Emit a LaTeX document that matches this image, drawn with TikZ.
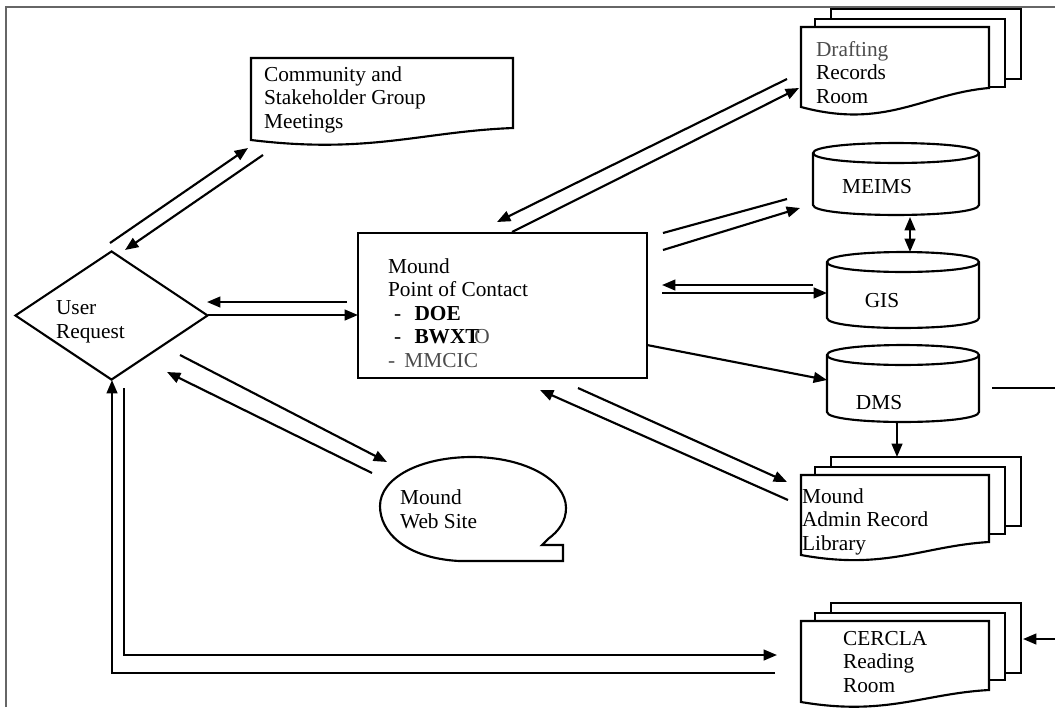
\documentclass[tikz,border=0pt]{standalone}
\usepackage{fontspec}
\setmainfont{Liberation Serif}
\usepackage{tikz}
\usetikzlibrary{arrows.meta}
\usetikzlibrary{shapes.geometric}
\definecolor{txtgray}{gray}{0.3}
\definecolor{framegray}{gray}{0.4}
\tikzset{arr/.style = {-{Triangle[length=10pt,width=8pt]}}}
\tikzset{dblarr/.style = {{Triangle[length=10pt,width=8pt]}-{Triangle[length=10pt,width=8pt]}}}
\tikzset{txt/.style = {anchor=base west, inner sep=0, align=left}}
\tikzset{shp/.style = {draw, fill=white}}
% document shape: left, top, right, bottom right, bottom left
\newcommand{\docshape}[5]{%
 \draw[shp] (#1,#2) -- (#3,#2) -- (#3,#4) .. controls ({#3-0.35*(#3-#1)},{#4+0.3*(#5-#4)}) and ({#1+0.45*(#3-#1)},{#5+1.2*(#5-#4)}) .. (#1,#5) -- cycle;}
% stack of three documents, last two args: bottoms of the middle and back sheet
\newcommand{\docstack}[7]{%
 \draw[shp] ({#1+30},{#2-18}) rectangle ({#3+32},#7);
 \draw[shp] ({#1+14},{#2-8}) rectangle ({#3+16},#6);
 \docshape{#1}{#2}{#3}{#4}{#5}}
% cylinder: left, right, top, bottom
\newcommand{\dbcyl}[4]{%
 \draw[shp] (#1,{#3+10}) .. controls (#1,{#3-3.3}) and (#2,{#3-3.3}) .. (#2,{#3+10})
  -- (#2,{#4-10}) .. controls (#2,{#4+3.3}) and (#1,{#4+3.3}) .. (#1,{#4-10}) -- cycle;
 \draw (#1,{#3+10}) .. controls (#1,{#3+23.3}) and (#2,{#3+23.3}) .. (#2,{#3+10});}

\begin{document}
\begin{tikzpicture}[x=0.75pt, y=-0.75pt, line width=1.6pt, font=\fontsize{16}{17.6}\selectfont]
\useasboundingbox (0,0) rectangle (1055,707);
\draw[framegray, line width=1.5pt] (6,707) -- (6,7) -- (1055,7);

% shapes
\docshape{251}{58}{513}{128}{140}
\docstack{801}{27}{989}{88}{107}{87}{79}
\docstack{801}{475}{989}{542}{555}{534}{526}
\docstack{801}{621}{989}{690}{702}{680}{673}
\dbcyl{813}{979}{143}{215}
\dbcyl{827}{979}{252}{328}
\dbcyl{827}{979}{345}{422}
\node[diamond, draw, minimum width=144.75pt, minimum height=96.75pt, inner sep=0] (user) at (111.5,315.5) {};
\node[draw, minimum width=216.75pt, minimum height=108.75pt, inner sep=0] (poc) at (502.5,305.5) {};
\draw[shp] (459,561) .. controls (405,558) and (380,532) .. (380,506) .. controls (380,478) and (420,457) .. (472,457)
 .. controls (525,457) and (566,480) .. (566,508) .. controls (566,521) and (559,531) .. (548,539)
 -- (542,545) -- (563,545) -- (563,561) -- cycle;

% texts (anchored at the baseline of their last line)
\node[txt] (comm) at (263,128) {Community and\\Stakeholder Group\\Meetings};
\node[txt] (draft) at (815,103) {{\color{txtgray}Drafting}\\Records\\Room};
\node[txt] (usr) at (55,338) {User\\Request};
\node[txt] (pocText) at (387,367) {Mound\\Point of Contact\\\hspace*{4.5pt}-\hspace*{10pt}\textbf{DOE}\\\hspace*{4.5pt}-\hspace*{10pt}\textbf{BWXT}\kern-4pt{\color{txtgray}O}\\{\color{txtgray}-\hspace*{7pt}MMCIC}};
\node[anchor=base, inner sep=0] (meims) at (877,193) {MEIMS};
\node[anchor=base, inner sep=0] (gis) at (882,307) {GIS};
\node[anchor=base, inner sep=0] (dms) at (879,409) {DMS};
\node[txt] (web) at (399,528) {Mound\\Web Site};
\node[txt] (admin) at (801,550) {Mound\\Admin Record\\Library};
\node[txt] (cercla) at (842,692) {CERCLA\\Reading\\Room};

% connector ends
\coordinate (ur-cm) at (110,243);  \coordinate (cm-in) at (248,148);
\coordinate (cm-ur) at (263,155);  \coordinate (ur-in) at (125,250);
\coordinate (pc-ur) at (347,302);  \coordinate (ur-r) at (207,302);
\coordinate (ur-pc) at (208,315);  \coordinate (pc-l) at (358,315);
\coordinate (ur-wb) at (180,355);  \coordinate (wb-in) at (387,462);
\coordinate (wb-ur) at (372,473);  \coordinate (ur-lr) at (167,372);
\coordinate (pc-dr) at (512,232);  \coordinate (dr-in) at (799,88);
\coordinate (dr-pc) at (787,79);   \coordinate (pc-t) at (497,222);
\coordinate (pc-me) at (663,250);  \coordinate (me-in) at (800,208);
\coordinate (me-pc) at (787,199);  \coordinate (pc-me2) at (663,233);
\coordinate (gi-pc) at (813,285);  \coordinate (pc-gi2) at (662,285);
\coordinate (pc-gi) at (662,293);  \coordinate (gi-in) at (827,293);
\coordinate (pc-dm) at (647,345);  \coordinate (dm-in) at (827,380);
\coordinate (pc-ad) at (578,388);  \coordinate (ad-in) at (787,482);
\coordinate (ad-pc) at (788,500);  \coordinate (pc-b) at (540,390);
\coordinate (me-b) at (910,217);   \coordinate (gi-t) at (910,252);
\coordinate (dm-b) at (897,422);   \coordinate (ad-t) at (897,457);
\coordinate (dm-r) at (992,388);   \coordinate (dm-out) at (1055,388);
\coordinate (ce-src) at (1055,639); \coordinate (ce-r) at (1023,639);
\coordinate (ur-ce) at (124,388);  \coordinate (ce-in) at (777,655);
\coordinate (ce-ur) at (775,673);  \coordinate (ur-b) at (112,380);

% connectors
\draw[arr] (ur-cm) -- (cm-in);
\draw[arr] (cm-ur) -- (ur-in);
\draw[arr] (pc-ur) -- (ur-r);
\draw[arr] (ur-pc) -- (pc-l);
\draw[arr] (ur-wb) -- (wb-in);
\draw[arr] (wb-ur) -- (ur-lr);
\draw[arr] (pc-dr) -- (dr-in);
\draw[arr] (dr-pc) -- (pc-t);
\draw[arr] (pc-me) -- (me-in);
\draw (me-pc) -- (pc-me2);
\draw[arr] (gi-pc) -- (pc-gi2);
\draw[arr] (pc-gi) -- (gi-in);
\draw[arr] (pc-dm) -- (dm-in);
\draw[arr] (pc-ad) -- (ad-in);
\draw[arr] (ad-pc) -- (pc-b);
\draw[dblarr] (me-b) -- (gi-t);
\draw[arr] (dm-b) -- (ad-t);
\draw (dm-r) -- (dm-out);
\draw[arr] (ce-src) -- (ce-r);
\draw[arr] (ur-ce) |- (ce-in);
\draw[arr] (ce-ur) -| (ur-b);
\end{tikzpicture}
\end{document}
